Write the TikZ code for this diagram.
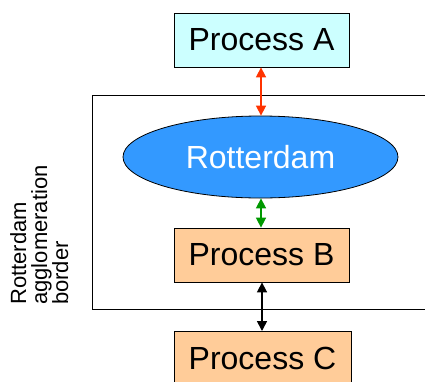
\documentclass[tikz,border=0pt]{standalone}
\usepackage{fontspec}
\setmainfont{Liberation Sans}
\usetikzlibrary{arrows.meta,shapes.geometric}
\definecolor{procA}{HTML}{CCFFFF}
\definecolor{procB}{HTML}{FFCC99}
\definecolor{cityblue}{HTML}{3399FF}
\definecolor{linkred}{HTML}{FF3300}
\definecolor{linkgreen}{HTML}{009900}
\tikzset{
  procbox/.style={draw=black, line width=0.8pt, minimum width=175pt, minimum height=54pt,
    inner sep=0pt, font=\fontsize{32}{36}\selectfont},
  link/.style={line width=1.6pt, {Triangle[length=10pt,width=10pt]}-{Triangle[length=10pt,width=10pt]}}
}
\begin{document}
\begin{tikzpicture}[x=1pt,y=-1pt]
  \clip (0,0) rectangle (425,381);
  \fill[white] (0,0) rectangle (425,381);
  % agglomeration border
  \draw[line width=0.8pt] (92,95) rectangle (440,309);
  \node[rotate=90, anchor=north west, align=left, inner sep=0pt,
        font=\fontsize{22}{21}\selectfont] (lbl) at (10,305) {Rotterdam\\agglomeration\\border};
  % processes
  \node[procbox, fill=procA] (A) at (261.5,40) {Process A};
  \node[draw=black, line width=0.8pt, fill=cityblue, ellipse, minimum width=275pt,
        minimum height=82pt, inner sep=0pt, text=white, font=\fontsize{32}{36}\selectfont]
        (R) at (260.5,157) {Rotterdam};
  \node[procbox, fill=procB] (B) at (261.5,255) {Process B};
  \node[procbox, fill=procB, minimum width=177pt, anchor=north] (C) at (262.5,331) {Process C};
  % links
  \draw[link, linkred] (A.south -| 261,0) -- (R.north -| 261,0);
  \draw[link, linkgreen] (R.south -| 261,0) -- (B.north -| 261,0);
  \draw[link, black] (B.south -| 262,0) -- (C.north -| 262,0);
\end{tikzpicture}
\end{document}
